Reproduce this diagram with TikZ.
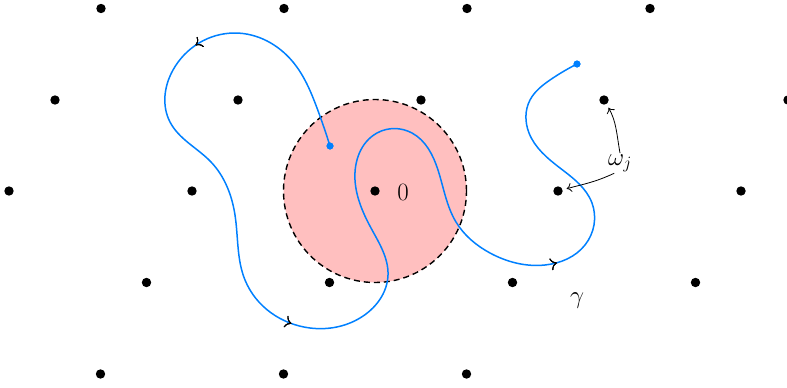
\documentclass[tikz,border=0pt]{standalone}
\usetikzlibrary{arrows.meta,decorations.markings,hobby}
\definecolor{curveblue}{RGB}{0,128,255}
\definecolor{diskpink}{RGB}{255,191,191}
\begin{document}
\begin{tikzpicture}[x=1pt,y=-1pt,
  latt/.style={circle,fill=black,inner sep=0pt,minimum size=9.4pt},
  enddot/.style={circle,fill=curveblue,inner sep=0pt,minimum size=7pt},
  lbl/.style={font=\fontsize{25}{30}\selectfont,inner sep=1pt},
  midarrow/.style={decoration={markings,mark=at position #1 with {\arrow[black,line width=0.9pt]{Computer Modern Rightarrow[length=6pt,width=12pt]}}},postaction=decorate},
  gam/.style={curveblue,line width=1.5pt},
  ptr/.style={-{Computer Modern Rightarrow[length=5pt,width=9pt]},line width=0.8pt,shorten >=4pt}
]
\useasboundingbox (0,0) rectangle (787,388);
% disk
\node[circle,minimum size=183pt,inner sep=0pt,fill=diskpink,draw=black,line width=1.4pt,dash pattern=on 6pt off 4pt] (disk) at (375,191) {};
% curve gamma
\node[enddot] (s) at (330,146) {};
\node[enddot] (e) at (577,64) {};
\draw[gam,use Hobby shortcut,midarrow=0.15,midarrow=0.401,midarrow=0.80]
 (330,146) .. (317,108) .. (293,62) .. (235,33) .. (173,70) .. (170,122) .. (211,162) .. (235,215)
 .. (245,280) .. (310,328) .. (360,318) .. (388,275) .. (371,228) .. (355,180) .. (377,133) .. (412,133)
 .. (438,170) .. (456,222) .. (490,253) .. (545,265) .. (585,245) .. (592,203) .. (560,168) .. (529,133) .. (530,100)
 .. (550,80) .. (577,64);
\node[enddot] at (s) {};
\node[enddot] at (e) {};
% lattice
\foreach \n/\x/\y in {a1/101/8.5,a2/284/8.5,a3/467/8.5,a4/650/8.5,
  b1/55/100,b2/238/100,b3/421/100,b4/604/100,b5/788/100,
  c1/9/191,c2/192/191,c0/375/191,c3/558/191,c4/741/191,
  d1/146.5/282.5,d2/329.5/282.5,d3/512.5/282.5,d4/695.5/282.5,
  e1/100.5/374,e2/283.5/374,e3/466.5/374}
  \node[latt] (\n) at (\x,\y) {};
% labels
\node[lbl,anchor=base] (zero) at (403,200) {$0$};
\node[lbl,anchor=base] (gamma) at (577,303.5) {$\gamma$};
\node[lbl,anchor=base] (omega) at (620,165) {$\omega_j$};
\draw[ptr] (omega.north) to[out=100,in=-60] (b4);
\draw[ptr] (omega.240) to[out=205,in=15] (c3);
\end{tikzpicture}
\end{document}
